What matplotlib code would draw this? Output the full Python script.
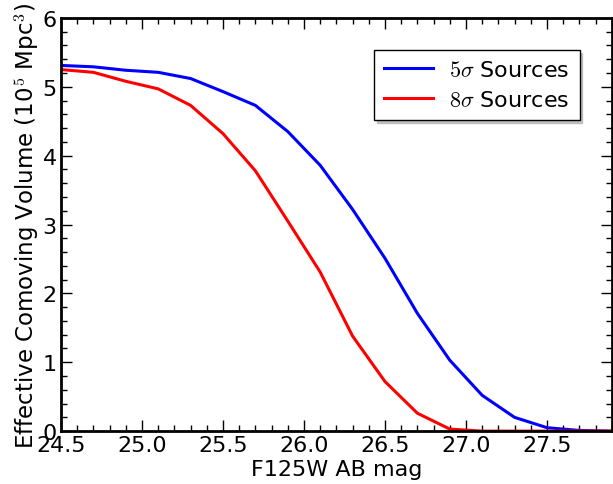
import numpy as np
import matplotlib
matplotlib.use("Agg")
import matplotlib.pyplot as plt
from matplotlib.ticker import MultipleLocator, FormatStrFormatter

# valeurs
mag = [24.5, 24.7, 24.9, 25.1, 25.3, 25.5, 25.7, 25.9, 26.1, 26.3,
       26.5, 26.7, 26.9, 27.1, 27.3, 27.5, 27.7, 27.9]
vol_5sig = [5.31, 5.29, 5.24, 5.21, 5.12, 4.93, 4.73, 4.35, 3.86, 3.22,
            2.51, 1.71, 1.03, 0.52, 0.20, 0.05, 0.01, 0.0]
vol_8sig = [5.25, 5.21, 5.08, 4.97, 4.73, 4.32, 3.78, 3.05, 2.31, 1.38,
            0.72, 0.26, 0.03, 0.0, 0.0, 0.0, 0.0, 0.0]

plt.rcParams["mathtext.fontset"] = "cm"
plt.rcParams["font.family"] = "DejaVu Sans"

fig = plt.figure(figsize=(6.13, 4.85), dpi=100)
ax = fig.add_axes([0.0995, 0.109, 0.8985, 0.852])

ax.plot(mag, vol_5sig, color="blue", lw=2.2, label=r"$5\sigma$ Sources")
ax.plot(mag, vol_8sig, color="red", lw=2.2, label=r"$8\sigma$ Sources")

ax.set_xlim(24.5, 27.9)
ax.set_ylim(0, 6)
ax.xaxis.set_major_locator(MultipleLocator(0.5))
ax.xaxis.set_minor_locator(MultipleLocator(0.1))
ax.yaxis.set_major_locator(MultipleLocator(1))
ax.yaxis.set_minor_locator(MultipleLocator(0.2))
ax.xaxis.set_major_formatter(FormatStrFormatter("%.1f"))

ax.tick_params(which="both", direction="in", top=True, right=True, labelsize=16, width=1)
ax.tick_params(which="major", length=8, pad=3)
ax.tick_params(which="minor", length=4)
for sp in ax.spines.values():
    sp.set_linewidth(2)

ax.set_xlabel("F125W AB mag", fontsize=16, labelpad=3)
ax.set_ylabel("Effective Comoving Volume (10$^5$ Mpc$^3$)", fontsize=16.5, labelpad=1)

leg = ax.legend(loc="upper right", fontsize=16, fancybox=False,
                shadow={"color": "0.7", "alpha": 0.8},
                borderaxespad=1.45, handlelength=2.2, handletextpad=0.75,
                labelspacing=0.45, borderpad=0.45)
leg.get_frame().set_edgecolor("black")
leg.get_frame().set_linewidth(1)

fig.savefig("out.png", dpi=100)
